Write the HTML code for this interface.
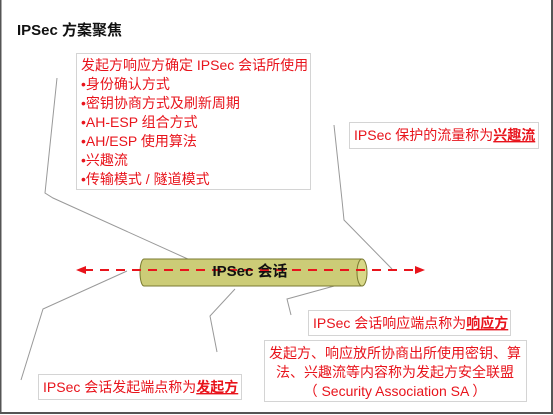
<!DOCTYPE html>
<html><head><meta charset="utf-8"><style>
body{margin:0;width:553px;height:415px;overflow:hidden;background:#fff}
svg{display:block;font-family:"Liberation Sans","Noto Sans CJK SC",sans-serif}
.r{fill:#e8141c;font-size:14px}
</style></head><body>
<svg width="553" height="415" viewBox="0 0 553 415">
<rect x="0.5" y="-2" width="551.5" height="415" fill="none" stroke="#555" stroke-width="2"/>
<text x="17" y="35" font-size="15" font-weight="bold" fill="#111">IPSec 方案聚焦</text>
<g fill="none" stroke="#999" stroke-width="1">
<polyline points="57,78 45,193 53,198 190,260"/>
<polyline points="334,125 342,200 344,220 392,269"/>
<polyline points="127,271 43,309 21,380"/>
<polyline points="235,289 210,316 217,352"/>
<polyline points="356,280 287,299 291,315"/>
</g>
<g fill="#fff" stroke="#aaa" stroke-dasharray="1,1">
<rect x="76.5" y="53.5" width="234" height="136"/>
<rect x="349.5" y="122.5" width="189" height="26"/>
<rect x="308.5" y="310.5" width="202" height="25"/>
<rect x="264.5" y="340.5" width="262" height="61"/>
<rect x="38.5" y="374.5" width="203" height="25"/>
</g>
<text class="r" x="81" y="70">发起方响应方确定 IPSec 会话所使用</text>
<text class="r" x="81" y="89">•身份确认方式</text>
<text class="r" x="81" y="108">•密钥协商方式及刷新周期</text>
<text class="r" x="81" y="127">•AH-ESP 组合方式</text>
<text class="r" x="81" y="146">•AH/ESP 使用算法</text>
<text class="r" x="81" y="165">•兴趣流</text>
<text class="r" x="81" y="184">•传输模式 / 隧道模式</text>
<text class="r" x="354" y="140">IPSec 保护的流量称为<tspan font-weight="bold" text-decoration="underline">兴趣流</tspan></text>
<text class="r" x="313" y="328">IPSec 会话响应端点称为<tspan font-weight="bold" text-decoration="underline">响应方</tspan></text>
<text class="r" x="395" y="358" text-anchor="middle">发起方、响应放所协商出所使用密钥、算</text>
<text class="r" x="395" y="377" text-anchor="middle">法、兴趣流等内容称为发起方安全联盟</text>
<text class="r" x="395" y="396" text-anchor="middle">（ Security Association SA ）</text>
<text class="r" x="43" y="392">IPSec 会话发起端点称为<tspan font-weight="bold" text-decoration="underline">发起方</tspan></text>
<path d="M144,259 H362 V286 H144 A4,13.5 0 0 1 144,259 Z" fill="#cccc77" stroke="#7a7a30"/>
<ellipse cx="362" cy="272.5" rx="5" ry="13.5" fill="#d8d888" stroke="#7a7a30"/>
<line x1="84" y1="270" x2="417" y2="270" stroke="#e8141c" stroke-width="2" stroke-dasharray="9,7"/>
<polygon points="76,270 86,266 86,274" fill="#e8141c"/>
<polygon points="425,270 415,266 415,274" fill="#e8141c"/>
<text x="250" y="276" font-size="15" font-weight="bold" fill="#111" text-anchor="middle">IPSec 会话</text>
</svg>
</body></html>
